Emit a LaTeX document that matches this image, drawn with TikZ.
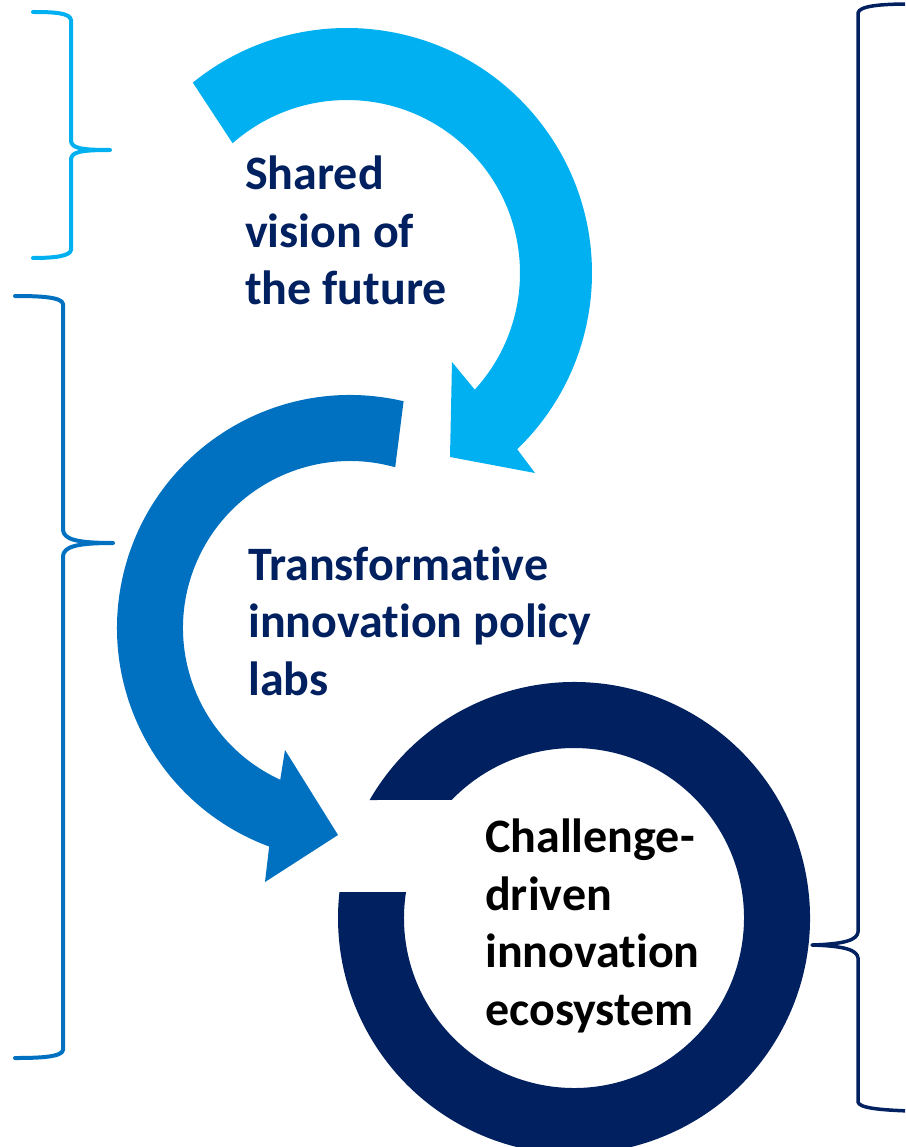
\documentclass[tikz,border=0pt]{standalone}
\usepackage{fontspec}
\setmainfont{Carlito}[Ligatures={NoCommon,NoContextual}]
\usetikzlibrary{calc}
\definecolor{lblue}{HTML}{00B0F0}
\definecolor{mblue}{HTML}{0070C0}
\definecolor{navy}{HTML}{002060}
\begin{document}
\begin{tikzpicture}[x=1pt,y=-1pt,
  lbl/.style={anchor=base west, align=left, inner sep=0pt, font=\fontsize{48}{57.5}\selectfont\bfseries},
  bracestyle/.style={line width=4pt, line cap=round, line join=round}]
\useasboundingbox (0,0) rectangle (905,1147);
\clip (0,0) rectangle (905,1147);
\fill[white] (0,0) rectangle (905,1147);
\coordinate (cA) at (347,273);
\coordinate (cB) at (350,628);
\coordinate (cC) at (574,918);
% light blue arrow
\fill[lblue] ($(cA)+(-129:245)$) arc[start angle=-129, end angle=46, radius=245]
  -- (535,473) -- (450,457) -- (452,362) -- ($(cA)+(42.4:173)$)
  arc[start angle=42.4, end angle=-131.4, radius=173] -- cycle;
% medium blue arrow
\fill[mblue] ($(cB)+(-76.7:233)$) arc[start angle=-76.7, end angle=-249.7, radius=233]
  -- (265,882) -- (338,835) -- (285,750) -- ($(cB)+(-245.3:167)$)
  arc[start angle=-245.3, end angle=-74.3, radius=167] -- cycle;
% navy ring
\fill[navy] ($(cC)+(-150:236)$) arc[start angle=-150, end angle=186.3, radius=236]
  -- ($(cC)+(188.8:170)$) arc[start angle=188.8, end angle=-136, radius=170] -- cycle;
% braces
\draw[bracestyle, lblue] (33,12) .. controls (55,12) and (70,13) .. (71,20) -- (71,141)
  .. controls (72,148) and (80,150) .. (110,150) .. controls (80,150) and (72,152) .. (71,159)
  -- (71,250) .. controls (70,256) and (55,258) .. (33,258);
\draw[bracestyle, mblue] (15,296) .. controls (40,296) and (62,297) .. (63,304) -- (63,530)
  .. controls (64,539) and (75,543) .. (113,543) .. controls (75,543) and (64,547) .. (63,556)
  -- (63,1050) .. controls (62,1057) and (40,1058) .. (15,1058);
\draw[bracestyle, navy, line width=3.5pt] (910,4) .. controls (880,4) and (859,6) .. (858,13) -- (858,932)
  .. controls (857,940) and (845,944) .. (812,945) .. controls (845,946) and (857,950) .. (858,958)
  -- (858,1102) .. controls (859,1108) and (880,1110) .. (910,1111);
% texts (anchor = baseline of the last line)
\node[lbl, text=navy] (t1) at (245,305) {Shared\\vision of\\the future};
\node[lbl, text=navy] (t2) at (248,695) {Transformative\\innovation policy\\labs};
\node[lbl, text=black] (t3) at (485,1025) {Challenge-\\driven\\innovation\\ecosystem};
\end{tikzpicture}
\end{document}
